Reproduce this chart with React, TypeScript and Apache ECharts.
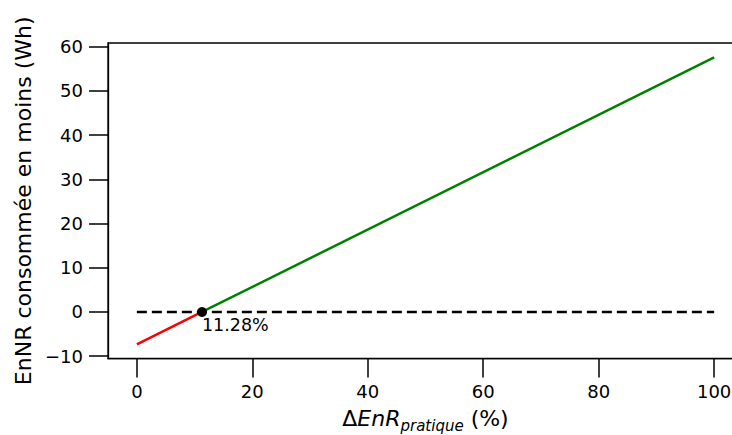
import React, { useEffect, useRef } from "react";
import * as echarts from "echarts";

const crossing = 11.28;
const redSegment: [number, number][] = [[0, -7.32], [crossing, 0]];
const greenSegment: [number, number][] = [[crossing, 0], [100, 57.6]];
const zeroLine: [number, number][] = [[0, 0], [100, 0]];
const crossingPoint: [number, number][] = [[crossing, 0]];
const crossingLabel = "11.28%";
const xTicks = [0, 20, 40, 60, 80, 100];
const yTicks = [-10, 0, 10, 20, 30, 40, 50, 60];
const yTitle = "EnNR consommée en moins (Wh)";

const FONT = "DejaVu Sans";

export default function App() {
  const ref = useRef<HTMLDivElement>(null);
  useEffect(() => {
    if (!ref.current) return;
    const chart = echarts.init(ref.current, undefined, { renderer: "svg" });
    const fmt = (v: number) => String(v).replace("-", "\u2212");
    chart.setOption({
      animation: false,
      backgroundColor: "#ffffff",
      grid: {
        left: 108,
        top: 43,
        width: 635,
        height: 315.6,
        show: true,
        borderColor: "#000",
        borderWidth: 1.3,
        containLabel: false,
        outerBoundsMode: "none",
      },
      xAxis: {
        type: "value",
        min: -5,
        max: 105,
        splitLine: { show: false },
        axisLine: { show: true, onZero: false, lineStyle: { color: "#000", width: 1.3 } },
        axisTick: { show: true, inside: false, customValues: xTicks, length: 19, lineStyle: { color: "#000", width: 1.5 } },
        axisLabel: {
          customValues: xTicks,
          formatter: fmt,
          margin: 24,
          fontSize: 18,
          fontFamily: FONT,
          color: "#000",
        },
        name: "{d|Δ}{it|EnR}{sub|pratique}{n| (%)}",
        nameLocation: "middle",
        nameGap: 45,
        nameTextStyle: {
          fontFamily: FONT,
          color: "#000",
          rich: {
            d: { fontSize: 22, fontFamily: FONT, lineHeight: 30 },
            it: { fontSize: 22, fontFamily: FONT, fontStyle: "italic", lineHeight: 30 },
            sub: { fontSize: 15, fontFamily: FONT, fontStyle: "italic", verticalAlign: "bottom", lineHeight: 15 },
            n: { fontSize: 22, fontFamily: FONT, lineHeight: 30 },
          },
        },
      },
      yAxis: {
        type: "value",
        min: -10.55,
        max: 60.85,
        splitLine: { show: false },
        axisLine: { show: true, onZero: false, lineStyle: { color: "#000", width: 1.3 } },
        axisTick: { show: true, inside: false, customValues: yTicks, length: 19, lineStyle: { color: "#000", width: 1.5 } },
        axisLabel: {
          customValues: yTicks,
          formatter: fmt,
          margin: 25,
          fontSize: 18,
          fontFamily: FONT,
          color: "#000",
        },
        name: yTitle,
        nameLocation: "middle",
        nameGap: 71,
        nameTextStyle: { fontSize: 22, fontFamily: FONT, color: "#000" },
      },
      series: [
        {
          type: "line",
          data: zeroLine,
          symbol: "none",
          lineStyle: { color: "#000", width: 2.5, type: [10, 5] },
          z: 2,
        },
        {
          type: "line",
          data: redSegment,
          symbol: "none",
          lineStyle: { color: "#ff0000", width: 2.5 },
          z: 3,
        },
        {
          type: "line",
          data: greenSegment,
          symbol: "none",
          lineStyle: { color: "#008000", width: 2.5 },
          z: 3,
        },
        {
          type: "scatter",
          data: crossingPoint,
          symbolSize: 10,
          itemStyle: { color: "#000", opacity: 1 },
          z: 5,
          label: {
            show: true,
            formatter: () => crossingLabel,
            position: [5, 9],
            align: "left",
            verticalAlign: "top",
            fontSize: 17.5,
            fontFamily: FONT,
            color: "#000",
            opacity: 1,
          },
        },
      ],
    });
    return () => chart.dispose();
  }, []);
  return (
    <div
      ref={ref}
      style={{ position: "absolute", left: 0, top: 0, width: 732, height: 435 }}
    />
  );
}
